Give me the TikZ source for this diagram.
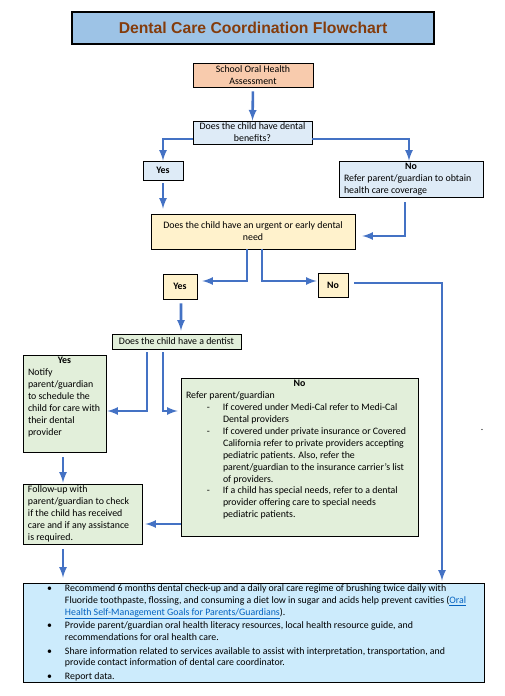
\documentclass[tikz,border=0pt]{standalone}
\usepackage{fontspec}
\setmainfont{Carlito}
\newfontfamily\arialfont{Liberation Sans}
\usetikzlibrary{calc}
\definecolor{titleblue}{HTML}{9DC3E6}
\definecolor{titlebrown}{HTML}{843C0C}
\definecolor{peach}{HTML}{F8CBAD}
\definecolor{paleblue}{HTML}{DEEBF7}
\definecolor{paleyellow}{HTML}{FFF2CC}
\definecolor{palegreen}{HTML}{E2EFDA}
\definecolor{skyblue}{HTML}{CCEBFC}
\definecolor{flowblue}{HTML}{4472C4}
\definecolor{linkblue}{HTML}{0563C1}
\tikzset{
	box/.style={draw=black, line width=0.8bp, inner xsep=5bp, inner ysep=2bp,
		font=\fontsize{9.9}{12}\selectfont, align=center},
	flow/.style={draw=flowblue, line width=2.6bp, -latex},
}
\newcommand{\tbox}[3]{\parbox[c][#1][t]{#2}{#3}}
\newcommand{\dashitem}[1]{{\leftskip=37bp\noindent\llap{-\hspace{13bp}}#1\par}}
\newcommand{\bulitem}[1]{{\noindent\llap{\textbullet\hspace{13bp}}#1\par}}
\newcommand{\lnk}[1]{\textcolor{linkblue}{\underline{#1}}}
\begin{document}
\begin{tikzpicture}[x=1bp,y=-1bp]
	\useasboundingbox (0,0) rectangle (505,696);
	\coordinate (c0) at (253,28);
	\coordinate (c1) at (253,75);
	\coordinate (c2) at (252.5,132.5);
	\coordinate (c3) at (163,170.5);
	\coordinate (c4) at (411,179);
	\coordinate (c5) at (253,231.5);
	\coordinate (c6) at (180,286.5);
	\coordinate (c7) at (333,285);
	\coordinate (c8) at (176.5,341.5);
	\coordinate (c9) at (64.5,403.5);
	\coordinate (c10) at (299.5,457);
	\coordinate (c11) at (82.5,514);
	\coordinate (c12) at (253.5,632.5);
	%
	\node[box, fill=titleblue, line width=1.1bp, minimum width=362bp, minimum height=32bp,
		text=titlebrown, font=\arialfont\bfseries\fontsize{15.8}{18}\selectfont] (title) at (c0) {Dental Care Coordination Flowchart};
	\node[box, fill=peach, minimum width=120bp, minimum height=24bp] (assess) at (c1) {School Oral Health\\Assessment};
	\node[box, fill=paleblue, minimum width=119bp, minimum height=23bp] (benefits) at (c2) {Does the child have dental\\benefits?};
	\node[box, fill=paleblue, minimum width=40bp, minimum height=19bp] (yes1) at (c3) {\textbf{Yes}};
	\node[box, fill=paleblue] (no1) at (c4) {\tbox{32bp}{134bp}{\centering\textbf{No}\par
			\raggedright Refer parent/guardian to obtain\\health care coverage}};
	\node[box, fill=paleyellow, minimum width=204bp, minimum height=35bp] (urgent) at (c5) {Does the child have an urgent or early dental\\need};
	\node[box, fill=paleyellow, minimum width=34bp, minimum height=25bp] (yes2) at (c6) {\textbf{Yes}};
	\node[box, fill=paleyellow, minimum width=30bp, minimum height=24bp] (no2) at (c7) {\textbf{No}};
	\node[box, fill=palegreen, minimum width=129bp, minimum height=15bp] (dentist) at (c8) {Does the child have a dentist};
	\node[box, fill=palegreen] (yes3) at (c9) {\tbox{93bp}{73bp}{\centering\textbf{Yes}\par
			\raggedright Notify\\parent/guardian\\to schedule the\\child for care with\\their dental\\provider}};
	\node[box, fill=palegreen] (no3) at (c10) {\tbox{154bp}{227bp}{\centering\textbf{No}\par
			\raggedright Refer parent/guardian\par
			\dashitem{If covered under Medi-Cal refer to Medi-Cal\\Dental providers}
			\dashitem{If covered under private insurance or Covered\\California refer to private providers accepting\\pediatric patients. Also, refer the\\parent/guardian to the insurance carrier's list\\of providers.}
			\dashitem{If a child has special needs, refer to a dental\\provider offering care to special needs\\pediatric patients.}}};
	\node[box, fill=palegreen] (follow) at (c11) {\tbox{56bp}{109bp}{\raggedright Follow-up with\\parent/guardian to check\\if the child has received\\care and if any assistance\\is required.}};
	\node[box, fill=skyblue] (bottom) at (c12) {\tbox{95bp}{451bp}{\raggedright\leftskip=37bp\fontsize{9.9}{11.7}\selectfont
			\bulitem{Recommend 6 months dental check-up and a daily oral care regime of brushing twice daily with\\Fluoride toothpaste, flossing, and consuming a diet low in sugar and acids help prevent cavities (\lnk{Oral}\\\lnk{Health Self-Management Goals for Parents/Guardians}).}\vspace{2bp}
			\bulitem{Provide parent/guardian oral health literacy resources, local health resource guide, and\\recommendations for oral health care.}\vspace{2bp}
			\bulitem{Share information related to services available to assist with interpretation, transportation, and\\provide contact information of dental care coordinator.}\vspace{2bp}
			\bulitem{Report data.}}};
	\node[font=\fontsize{9.9}{12}\selectfont, inner sep=0pt] (dot) at (482,430) {.};
	%
	\draw[flow, shorten <=4bp] (assess.south) -- (benefits.north);
	\draw[flow] ($(benefits.west)+(0,6.5)$) -| (yes1.north);
	\draw[flow] ($(benefits.east)+(0,6.5)$) -| ($(no1.north)+(-2,0)$);
	\draw[flow, shorten <=3bp, shorten >=5bp] (yes1.south) -- (yes1.south |- urgent.north);
	\draw[flow] ($(no1.south)+(-6,5)$) |- ($(urgent.east)+(7,4.5)$);
	\draw[flow] ($(urgent.south)+(-6,0)$) |- ($(yes2.east)+(5,-5.5)$);
	\draw[flow] ($(urgent.south)+(9,0)$) |- ($(no2.west)+(-1,-4)$);
	\draw[flow] ($(no2.east)+(6,-2)$) -| ($(bottom.north)+(188.5,-2)$);
	\draw[flow] ($(yes2.south)+(1,4)$) -- ($(dentist.north)+(4.5,-3)$);
	\draw[flow] ($(dentist.south)+(-29.5,3)$) |- ($(yes3.east)+(1,7.5)$);
	\draw[flow] ($(dentist.south)+(-13.5,3)$) |- ($(no3.west)+(-3,-46)$);
	\draw[flow] ($(yes3.south)+(-1.5,5)$) -- ($(follow.north)+(-19.5,-1)$);
	\draw[flow] ($(no3.west)+(0,67)$) -- ($(follow.east)+(3,10)$);
	\draw[flow] ($(follow.south)+(-19.5,5)$) -- ($(bottom.north)+(-190.5,-5)$);
\end{tikzpicture}
\end{document}
